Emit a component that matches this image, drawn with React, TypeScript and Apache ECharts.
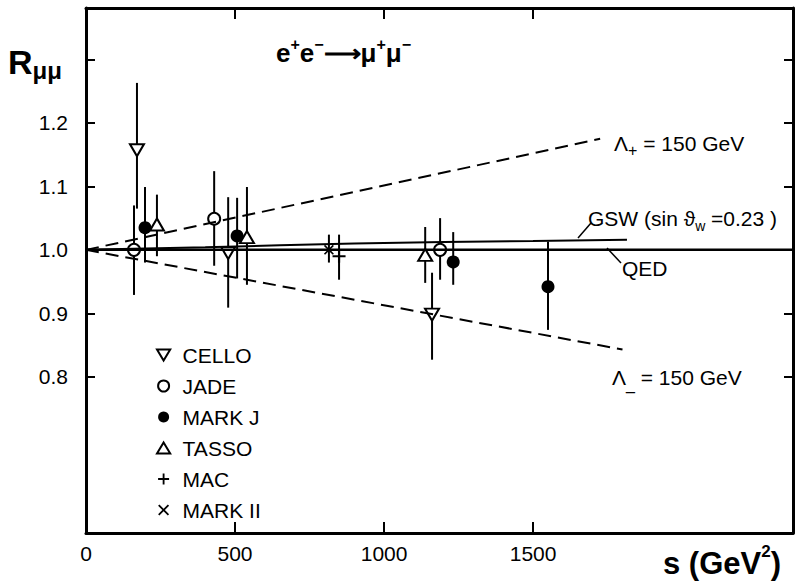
import React, { useEffect, useRef } from "react";
import * as echarts from "echarts";

// s (GeV^2), R, lower end of error bar, upper end of error bar
const CELLO = [
  [171, 1.157, 1.065, 1.263],
  [477, 0.995, 0.909, 1.083],
  [1161, 0.898, 0.827, 0.964],
];
const JADE = [
  [161, 1.0, 0.929, 1.07],
  [430, 1.049, 0.975, 1.124],
  [1188, 1.0, 0.953, 1.05],
];
const MARKJ = [
  [198, 1.035, 0.98, 1.099],
  [507, 1.022, 0.955, 1.082],
  [1232, 0.981, 0.945, 1.028],
  [1550, 0.942, 0.874, 1.013],
];
const TASSO = [
  [238, 1.04, 0.99, 1.087],
  [540, 1.02, 0.945, 1.099],
  [1138, 0.992, 0.948, 1.036],
];
const MAC = [[849, 0.99, 0.953, 1.024]];
const MARKII = [[815, 1.0, 0.98, 1.024]];

const QED = [[0, 1.0], [2372, 1.0]];
const GSW = [[0, 1.0], [400, 1.004], [900, 1.01], [1500, 1.014], [1815, 1.016]];
const LAMBDA_PLUS = [[0, 1.0], [1725, 1.175]];
const LAMBDA_MINUS = [[0, 1.0], [1800, 0.843]];

const X_LABELS = [0, 500, 1000, 1500];
const X_TICKS = [500, 1000, 1500];
const Y_LABELS = [0.8, 0.9, 1.0, 1.1, 1.2];
const Y_TICKS = [0.8, 0.9, 1.0, 1.1, 1.2, 1.3];
const Y_TICKS_RIGHT = [0.8, 0.9, 1.1, 1.2, 1.3];

const FONT = "'Liberation Sans', Arial, sans-serif";

const SYM_DOWN = "path://M0,0 L12,0 L6,10 Z";
const SYM_UP = "path://M6,0 L12,10 L0,10 Z";
const SYM_PLUS = "path://M5,0 H7 V5 H12 V7 H7 V12 H5 V7 H0 V5 H5 Z";
const SYM_X =
  "path://M0,1.4 L1.4,0 L6,4.6 L10.6,0 L12,1.4 L7.4,6 L12,10.6 L10.6,12 L6,7.4 L1.4,12 L0,10.6 L4.6,6 Z";

export default function App() {
  const ref = useRef<HTMLDivElement>(null);
  useEffect(() => {
    if (!ref.current) return;
    const chart = echarts.init(ref.current, null, { renderer: "svg" });
    const open = { color: "#fff", borderColor: "#000", borderWidth: 2, opacity: 1 };
    const filled = { color: "#000", borderWidth: 0, opacity: 1 };
    const all = [...CELLO, ...JADE, ...MARKJ, ...TASSO, ...MAC, ...MARKII];
    const pts = (arr: number[][]) => arr.map((d) => [d[0], d[1]]);
    const axisLine = { show: true, onZero: false, lineStyle: { color: "#000", width: 3 } };
    const tickStyle = { color: "#000", width: 2 };
    const option: any = {
      animation: false,
      backgroundColor: "#fff",
      grid: { left: 86, right: 4, top: 8, bottom: 49, show: false },
      xAxis: [
        {
          type: "value",
          min: 0,
          max: 2372,
          position: "bottom",
          axisLine,
          splitLine: { show: false },
          axisTick: { show: true, inside: true, length: 11, lineStyle: tickStyle, customValues: X_TICKS },
          axisLabel: {
            customValues: X_LABELS,
            color: "#000",
            fontSize: 21,
            fontFamily: FONT,
            margin: 10,
            formatter: (v: number) => String(v),
          },
        },
        {
          type: "value",
          min: 0,
          max: 2372,
          position: "top",
          axisLine,
          splitLine: { show: false },
          axisTick: { show: true, inside: true, length: 11, lineStyle: tickStyle, customValues: X_TICKS },
          axisLabel: { show: false },
        },
      ],
      yAxis: [
        {
          type: "value",
          min: 0.554,
          max: 1.381,
          position: "left",
          axisLine,
          splitLine: { show: false },
          axisTick: { show: true, inside: true, length: 9, lineStyle: tickStyle, customValues: Y_TICKS },
          axisLabel: {
            customValues: Y_LABELS,
            color: "#000",
            fontSize: 21,
            fontFamily: FONT,
            margin: 18,
            formatter: (v: number) => v.toFixed(1),
          },
        },
        {
          type: "value",
          min: 0.554,
          max: 1.381,
          position: "right",
          axisLine,
          splitLine: { show: false },
          axisTick: { show: true, inside: true, length: 9, lineStyle: tickStyle, customValues: Y_TICKS_RIGHT },
          axisLabel: { show: false },
        },
      ],
      legend: {
        orient: "vertical",
        left: 151,
        top: 339,
        itemWidth: 24,
        itemHeight: 11,
        itemGap: 9,
        symbolKeepAspect: true,
        data: ["CELLO", "JADE", "MARK J", "TASSO", "MAC", "MARK II"],
        textStyle: { color: "#000", fontSize: 21, fontFamily: FONT, lineHeight: 22, padding: [0, 0, 0, 2] },
      },
      series: [
        {
          type: "line",
          data: QED,
          symbol: "none",
          lineStyle: { color: "#000", width: 2.5 },
          silent: true,
        },
        {
          type: "line",
          data: GSW,
          symbol: "none",
          smooth: true,
          lineStyle: { color: "#000", width: 2 },
          silent: true,
        },
        {
          type: "line",
          data: LAMBDA_PLUS,
          symbol: "none",
          lineStyle: { color: "#000", width: 2, type: [13, 7] },
          silent: true,
        },
        {
          type: "line",
          data: LAMBDA_MINUS,
          symbol: "none",
          lineStyle: { color: "#000", width: 2, type: [13, 7] },
          silent: true,
        },
        {
          type: "custom",
          name: "errors",
          data: all.map((d) => [d[0], d[2], d[3]]),
          renderItem: (params: any, api: any) => {
            const lo = api.coord([api.value(0), api.value(1)]);
            const hi = api.coord([api.value(0), api.value(2)]);
            return {
              type: "line",
              shape: { x1: lo[0], y1: lo[1], x2: hi[0], y2: hi[1] },
              style: { stroke: "#000", lineWidth: 2 },
            };
          },
          silent: true,
        },
        { type: "scatter", name: "CELLO", data: pts(CELLO), symbol: SYM_DOWN, symbolSize: [14, 12], itemStyle: open },
        { type: "scatter", name: "JADE", data: pts(JADE), symbol: "circle", symbolSize: 12, itemStyle: open },
        { type: "scatter", name: "MARK J", data: pts(MARKJ), symbol: "circle", symbolSize: 13, itemStyle: filled },
        { type: "scatter", name: "TASSO", data: pts(TASSO), symbol: SYM_UP, symbolSize: [14, 12], itemStyle: open },
        { type: "scatter", name: "MAC", data: pts(MAC), symbol: SYM_PLUS, symbolSize: 13, itemStyle: filled },
        { type: "scatter", name: "MARK II", data: pts(MARKII), symbol: SYM_X, symbolSize: 10, itemStyle: filled },
      ],
      graphic: [
        {
          type: "text",
          x: 8,
          y: 42,
          style: {
            text: "{r|R}{s|μμ}",
            rich: {
              r: { fontSize: 34, fontWeight: "bold", fontFamily: FONT, fill: "#000", lineHeight: 40, verticalAlign: "middle" },
              s: { fontSize: 24, fontWeight: "bold", fontFamily: FONT, fill: "#000", verticalAlign: "bottom" },
            },
          },
        },
        {
          type: "text",
          x: 276,
          y: 36,
          style: {
            text: "{a|e}{p|+}{a|e}{p|−}{a|⟶}{a|μ}{p|+}{a|μ}{p|−}",
            rich: {
              a: { fontSize: 26, fontWeight: "bold", fontFamily: FONT, fill: "#000", lineHeight: 30, verticalAlign: "bottom" },
              p: { fontSize: 16, fontWeight: "bold", fontFamily: FONT, fill: "#000", verticalAlign: "top" },
            },
          },
        },
        {
          type: "text",
          x: 614,
          y: 128,
          style: {
            text: "{a|Λ}{s|+}{a| = 150 GeV}",
            rich: {
              a: { fontSize: 21, fontFamily: FONT, fill: "#000", lineHeight: 30, verticalAlign: "middle" },
              s: { fontSize: 16, fontFamily: FONT, fill: "#000", verticalAlign: "bottom" },
            },
          },
        },
        {
          type: "text",
          x: 612,
          y: 362,
          style: {
            text: "{a|Λ}{s|_}{a| = 150 GeV}",
            rich: {
              a: { fontSize: 21, fontFamily: FONT, fill: "#000", lineHeight: 30, verticalAlign: "middle" },
              s: { fontSize: 16, fontFamily: FONT, fill: "#000", verticalAlign: "bottom" },
            },
          },
        },
        {
          type: "text",
          x: 588,
          y: 203,
          style: {
            text: "{a|GSW (sin ϑ}{s|w}{a| =0.23 )}",
            rich: {
              a: { fontSize: 21, fontFamily: FONT, fill: "#000", lineHeight: 30, verticalAlign: "middle" },
              s: { fontSize: 14, fontFamily: FONT, fill: "#000", verticalAlign: "bottom" },
            },
          },
        },
        {
          type: "line",
          shape: { x1: 578, y1: 238, x2: 591, y2: 223 },
          style: { stroke: "#000", lineWidth: 1.5 },
        },
        {
          type: "text",
          x: 622,
          y: 258,
          style: { text: "QED", fontSize: 21, fontFamily: FONT, fill: "#000" },
        },
        {
          type: "line",
          shape: { x1: 607, y1: 248, x2: 621, y2: 263 },
          style: { stroke: "#000", lineWidth: 1.5 },
        },
        {
          type: "text",
          x: 663,
          y: 543,
          style: {
            text: "{a|s (GeV}{p|2}{a|)}",
            rich: {
              a: { fontSize: 31, fontWeight: "bold", fontFamily: FONT, fill: "#000", lineHeight: 36, verticalAlign: "bottom" },
              p: { fontSize: 17, fontWeight: "bold", fontFamily: FONT, fill: "#000", verticalAlign: "top" },
            },
          },
        },
      ],
    };
    chart.setOption(option);
    return () => chart.dispose();
  }, []);
  return (
    <div
      ref={ref}
      style={{ position: "absolute", left: 0, top: 0, width: 797, height: 582, background: "#fff" }}
    />
  );
}
